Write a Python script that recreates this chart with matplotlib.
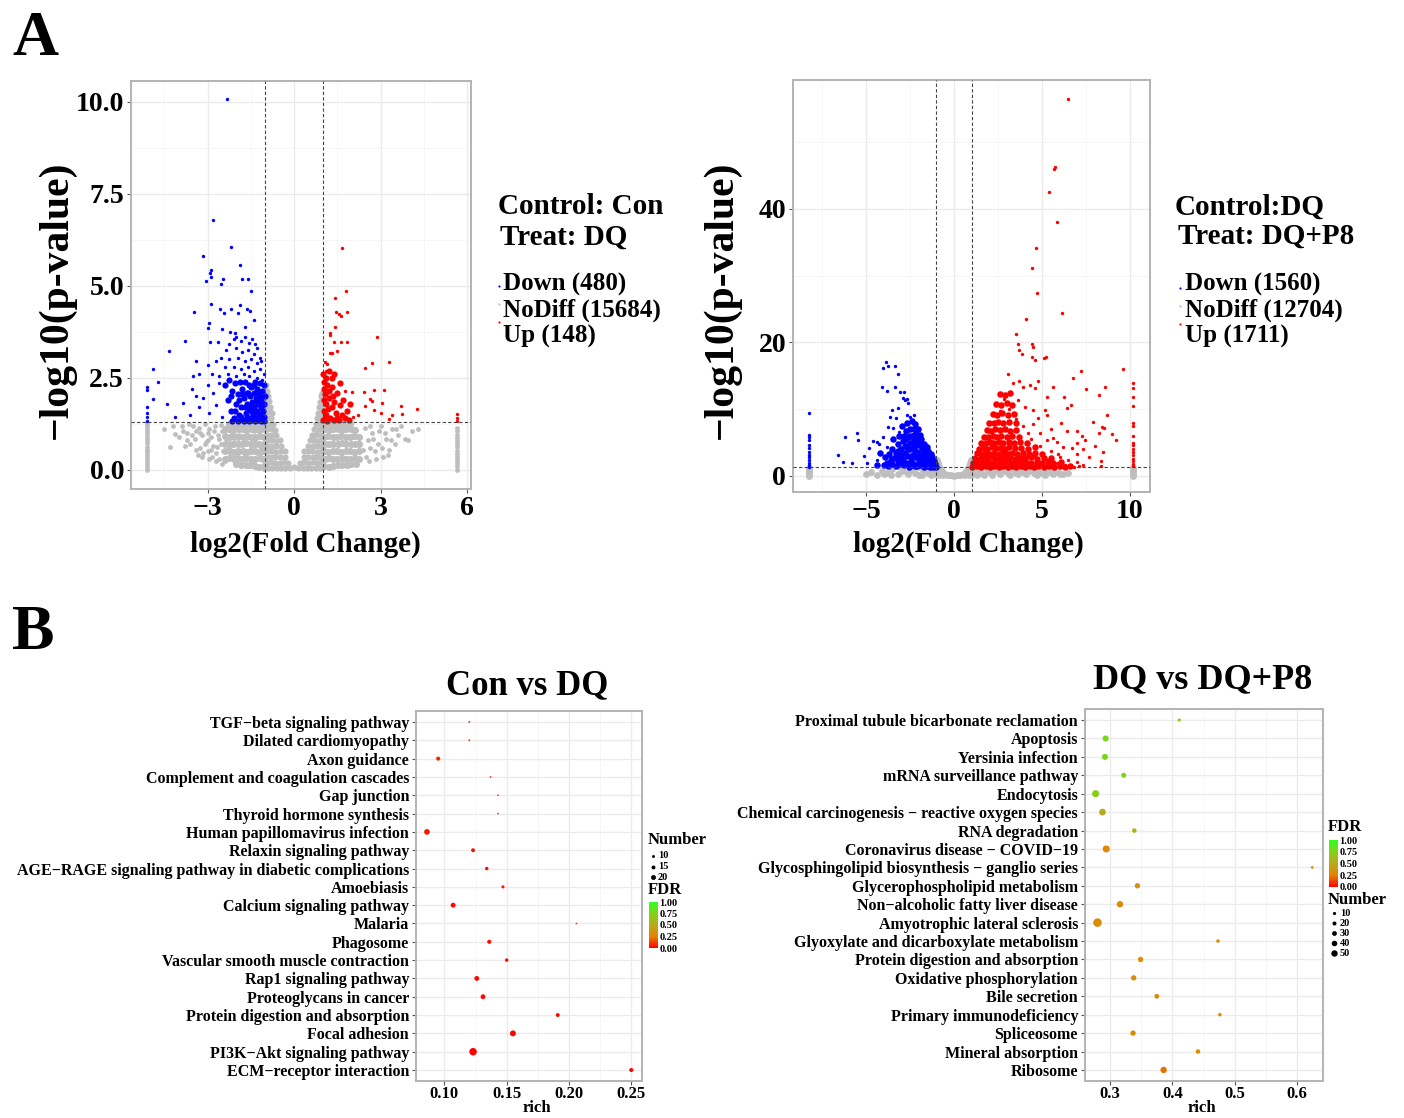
import numpy as np
import matplotlib
matplotlib.use("Agg")
import matplotlib.pyplot as plt
from matplotlib.colors import LinearSegmentedColormap, Normalize
from matplotlib.colorbar import ColorbarBase
from matplotlib.ticker import FixedLocator

W, H = 1404, 1118

plt.rcParams["font.family"] = ["Liberation Serif", "DejaVu Serif"]
plt.rcParams["font.weight"] = "bold"
plt.rcParams["axes.unicode_minus"] = True

# ---------------- volcano A1: Con vs DQ ----------------
a1_down = [
    (-2.32, 10.08), (-2.83, 6.78), (-2.20, 6.07), (-3.16, 5.82), (-1.88, 5.57), (-2.90, 5.42),
    (-2.92, 5.36), (-2.90, 5.25), (-3.05, 5.13), (-2.47, 5.19), (-2.52, 5.06), (-1.82, 5.19),
    (-1.60, 5.19), (-1.50, 4.86), (-2.89, 4.52), (-3.48, 4.29), (-2.58, 4.38), (-2.43, 4.26),
    (-2.18, 4.36), (-1.86, 4.49), (-1.95, 4.26), (-1.64, 4.36), (-1.54, 4.31), (-1.40, 4.07),
    (-2.95, 3.99), (-2.98, 3.86), (-2.51, 3.84), (-2.21, 3.76), (-2.05, 3.73), (-1.72, 3.88),
    (-2.00, 3.60), (-3.77, 3.51), (-4.35, 3.22), (-2.92, 3.48), (-2.64, 3.47), (-2.26, 3.41),
    (-2.10, 3.55), (-1.85, 3.50), (-1.70, 3.60), (-1.55, 3.45), (-1.45, 3.55), (-1.35, 3.42),
    (-1.30, 3.30), (-2.35, 3.25), (-2.00, 3.30), (-1.80, 3.20), (-1.60, 3.25), (-1.40, 3.15),
    (-1.20, 3.05), (-2.55, 3.05), (-2.25, 3.00), (-1.95, 3.05), (-1.70, 2.95), (-1.50, 3.00),
    (-1.30, 2.90), (-1.15, 2.95), (-2.70, 2.95), (-3.40, 2.95), (-3.00, 2.85), (-2.40, 2.80),
    (-2.10, 2.80), (-1.85, 2.75), (-1.60, 2.80), (-1.40, 2.70), (-1.20, 2.75), (-1.05, 2.60),
    (-3.50, 2.55), (-3.30, 2.60), (-2.85, 2.60), (-2.60, 2.55), (-2.30, 2.60), (-2.00, 2.55),
    (-1.75, 2.60), (-1.55, 2.55), (-1.30, 2.50), (-1.10, 2.45), (-4.88, 2.74), (-4.73, 2.38),
    (-4.88, 1.93), (-4.40, 1.78), (-4.12, 1.44), (-3.84, 1.82), (-3.55, 2.20), (-3.40, 2.00),
    (-3.60, 1.50), (-3.30, 1.70), (-3.00, 2.30), (-3.15, 1.95), (-2.95, 1.55), (-2.80, 2.10),
    (-2.70, 1.75), (-2.60, 2.35), (-2.50, 1.45), (-5.10, 2.25), (-5.10, 2.16), (-5.10, 1.70),
    (-5.10, 1.55), (-5.10, 1.43), (-5.10, 1.34),
]
a1_down_core = [
    (-2.40, 2.30), (-2.30, 1.90), (-2.25, 2.45), (-2.20, 1.60), (-2.15, 2.15), (-2.10, 1.40),
    (-2.05, 2.35), (-2.00, 1.80), (-1.95, 2.05), (-1.92, 1.50), (-1.88, 2.40), (-1.85, 1.70),
    (-1.80, 2.20), (-1.78, 1.35), (-1.75, 1.95), (-1.70, 2.40), (-1.68, 1.55), (-1.65, 2.10),
    (-1.62, 1.80), (-1.60, 1.40), (-1.58, 2.30), (-1.55, 1.65), (-1.52, 2.00), (-1.50, 1.35),
    (-1.48, 2.25), (-1.45, 1.85), (-1.43, 1.50), (-1.40, 2.10), (-1.38, 1.70), (-1.36, 2.40),
    (-1.34, 1.40), (-1.32, 1.95), (-1.30, 1.60), (-1.28, 2.20), (-1.26, 1.80), (-1.24, 1.35),
    (-1.22, 2.05), (-1.20, 1.50), (-1.18, 2.35), (-1.16, 1.70), (-1.14, 1.90), (-1.12, 1.40),
    (-1.10, 2.15), (-1.08, 1.60), (-1.06, 1.80), (-1.04, 2.30), (-1.03, 1.45), (-1.02, 2.00),
    (-1.15, 1.32), (-1.35, 1.32), (-1.55, 1.32), (-1.75, 1.33), (-1.95, 1.32), (-2.15, 1.33),
    (-1.05, 1.32), (-1.25, 1.55), (-1.45, 1.58), (-1.65, 1.45), (-1.85, 1.45), (-2.05, 1.60),
    (-1.10, 1.75), (-1.30, 1.85), (-1.50, 1.75), (-1.70, 1.70), (-1.90, 1.90), (-1.20, 2.00),
    (-1.40, 2.30), (-1.60, 2.10), (-1.80, 2.05), (-2.20, 2.00),
]
a1_up = [
    (1.68, 6.02), (1.79, 4.86), (1.42, 4.66), (1.46, 4.28), (1.56, 4.25), (1.64, 4.17),
    (1.84, 4.29), (1.43, 3.88), (1.25, 3.71), (1.26, 3.66), (1.40, 3.47), (1.62, 3.47),
    (1.82, 3.47), (2.88, 3.60), (1.23, 3.17), (1.31, 3.17), (1.49, 3.22), (2.46, 2.76),
    (2.71, 2.90), (3.28, 2.93), (1.08, 2.93), (1.14, 2.88), (1.11, 2.70), (1.77, 2.14),
    (2.00, 2.13), (2.42, 2.11), (2.79, 2.17), (3.13, 2.17), (2.64, 1.93), (2.70, 1.88),
    (2.45, 1.73), (3.04, 1.82), (3.70, 1.74), (4.27, 1.66), (2.79, 1.63), (3.00, 1.54),
    (3.39, 1.48), (3.73, 1.52), (2.03, 1.45), (2.23, 1.48), (3.29, 1.37), (5.64, 1.52),
    (5.64, 1.41), (5.64, 1.34),
]
a1_up_core = [
    (1.02, 2.60), (1.05, 2.40), (1.10, 2.50), (1.03, 2.20), (1.08, 2.05), (1.15, 2.30),
    (1.20, 2.15), (1.04, 1.90), (1.12, 1.80), (1.22, 1.95), (1.30, 2.25), (1.35, 2.00),
    (1.03, 1.60), (1.10, 1.50), (1.18, 1.65), (1.25, 1.40), (1.32, 1.70), (1.40, 1.85),
    (1.45, 1.55), (1.50, 2.10), (1.55, 1.35), (1.60, 1.75), (1.65, 1.50), (1.70, 1.90),
    (1.75, 1.40), (1.02, 1.35), (1.08, 1.38), (1.15, 1.33), (1.38, 1.35), (1.48, 1.42),
    (1.85, 1.60), (1.90, 1.35), (1.95, 1.80), (1.58, 2.35), (1.30, 2.50), (1.38, 2.60),
    (1.20, 2.70),
]
a1_nodiff = [
    (-1.05, 0.02), (-1.10, 0.30), (-1.15, 0.60), (-1.10, 0.90), (-1.20, 1.20), (-1.25, 0.05),
    (-1.30, 0.45), (-1.35, 0.80), (-1.40, 1.05), (-1.45, 0.20), (-1.50, 0.60), (-1.55, 1.25),
    (-1.60, 0.10), (-1.65, 0.90), (-1.70, 0.40), (-1.75, 1.10), (-1.80, 0.70), (-1.85, 0.15),
    (-1.90, 0.95), (-1.95, 0.45), (-2.00, 1.20), (-2.05, 0.20), (-2.10, 0.75), (-2.15, 1.00),
    (-2.20, 0.35), (-2.25, 0.60), (-2.30, 1.25), (-2.35, 0.85), (-2.40, 0.25), (-2.45, 0.50),
    (-2.50, 1.05), (-2.55, 0.70), (-2.60, 0.30), (-2.65, 0.95), (-2.70, 0.45), (-2.75, 1.20),
    (-2.80, 0.65), (-2.85, 0.35), (-2.90, 0.90), (-2.95, 1.10), (-3.00, 0.50), (-3.05, 0.75),
    (-3.10, 1.25), (-3.15, 0.45), (-3.20, 0.95), (-3.25, 0.60), (-3.30, 1.15), (-3.40, 0.55),
    (-3.45, 0.85), (-3.50, 1.20), (-3.60, 0.70), (-3.70, 1.00), (-3.80, 0.65), (-3.90, 1.20),
    (-4.00, 0.90), (-4.13, 0.98), (-4.31, 0.62), (-4.50, 1.10), (-3.35, 0.40), (-2.95, 0.30),
    (-2.50, 0.15), (-3.10, 0.70), (-3.40, 1.05), (-3.70, 0.80), (-3.55, 0.95), (-3.25, 1.00),
    (-3.85, 1.05), (-4.20, 1.20), (-3.65, 1.25), (-3.00, 1.00), (-2.70, 0.25), (-3.20, 0.35),
    (-2.62, 0.85), (-2.78, 1.05), (-2.88, 0.55), (-2.55, 1.22), (-2.68, 0.62), (-2.98, 0.82),
    (2.40, 0.55), (2.45, 1.15), (2.50, 0.35), (2.55, 0.80), (2.60, 0.25), (2.70, 1.00),
    (2.80, 0.50), (2.90, 0.70), (3.00, 1.20), (3.10, 0.35), (3.20, 0.85), (3.30, 0.55),
    (3.40, 1.10), (3.50, 0.70), (3.60, 0.95), (3.70, 1.20), (3.85, 0.85), (3.97, 0.80),
    (4.10, 1.05), (4.30, 1.10), (2.62, 0.60), (2.85, 0.30), (3.15, 1.00), (2.75, 0.85),
    (2.95, 1.05), (3.35, 0.80), (2.65, 1.20), (3.05, 0.60), (3.55, 1.10), (3.25, 0.40),
    (-5.10, 0.00), (-5.10, 0.08), (-5.10, 0.15), (-5.10, 0.25), (-5.10, 0.31), (-5.10, 0.40),
    (-5.10, 0.48), (-5.10, 0.55), (-5.10, 0.63), (-5.10, 0.72), (-5.10, 0.80), (-5.10, 0.86),
    (-5.10, 0.95), (-5.10, 1.02), (-5.10, 1.10), (-5.10, 1.18), (-5.10, 1.25),
    (5.64, 0.00), (5.64, 0.10), (5.64, 0.18), (5.64, 0.27), (5.64, 0.35), (5.64, 0.44),
    (5.64, 0.52), (5.64, 0.61), (5.64, 0.70), (5.64, 0.78), (5.64, 0.87), (5.64, 0.95),
    (5.64, 1.05), (5.64, 1.15),
]
# solid grey walls of the "V" between the dashed lines
a1_nodiff_wall = [
    (-0.90, 0.05), (-0.75, 0.04), (-0.60, 0.06), (-0.45, 0.05), (-0.30, 0.04), (-0.15, 0.06),
    (0.00, 0.08), (-0.95, 0.20), (-0.80, 0.21), (-0.65, 0.19), (-0.50, 0.20), (-0.35, 0.22),
    (-0.20, 0.18), (-0.95, 0.36), (-0.80, 0.35), (-0.65, 0.34), (-0.50, 0.36), (-0.33, 0.35),
    (-0.92, 0.50), (-0.77, 0.51), (-0.62, 0.49), (-0.46, 0.50), (-0.32, 0.52), (-0.95, 0.65),
    (-0.80, 0.64), (-0.63, 0.66), (-0.45, 0.65), (-0.92, 0.80), (-0.77, 0.81), (-0.62, 0.79),
    (-0.50, 0.80), (-0.95, 0.95), (-0.80, 0.94), (-0.64, 0.96), (-0.93, 1.10), (-0.78, 1.11),
    (-0.66, 1.09), (-0.95, 1.25), (-0.83, 1.26), (-0.73, 1.24), (-0.93, 1.40), (-0.81, 1.41),
    (-0.96, 1.55), (-0.84, 1.56), (-0.77, 1.54), (-0.93, 1.70), (-0.84, 1.71), (-0.96, 1.85),
    (-0.87, 1.86), (-0.94, 2.00), (-0.89, 2.02), (-0.95, 2.15), (-0.97, 2.30),
    (0.15, 0.06), (0.30, 0.05), (0.45, 0.04), (0.60, 0.06), (0.75, 0.05), (0.90, 0.04),
    (0.20, 0.19), (0.35, 0.21), (0.50, 0.20), (0.65, 0.22), (0.80, 0.19), (0.95, 0.21),
    (0.33, 0.34), (0.50, 0.36), (0.65, 0.35), (0.80, 0.34), (0.95, 0.36), (0.34, 0.50),
    (0.48, 0.52), (0.63, 0.50), (0.78, 0.49), (0.93, 0.51), (0.47, 0.66), (0.64, 0.65),
    (0.80, 0.64), (0.95, 0.66), (0.54, 0.80), (0.66, 0.81), (0.80, 0.79), (0.94, 0.80),
    (0.62, 0.95), (0.77, 0.96), (0.92, 0.94), (0.68, 1.10), (0.81, 1.09), (0.95, 1.11),
    (0.75, 1.25), (0.86, 1.26), (0.96, 1.24), (0.80, 1.40), (0.91, 1.41), (0.83, 1.55),
    (0.94, 1.54), (0.86, 1.70), (0.95, 1.71), (0.90, 1.85), (0.96, 1.86), (0.93, 2.00),
    (0.97, 2.10),
]
# solid grey shoulders just outside |log2FC| = 1
a1_nodiff_shoulder = [
    (-1.05, 0.10), (-1.22, 0.09), (-1.37, 0.11), (-1.52, 0.12), (-1.68, 0.12), (-1.84, 0.14),
    (-2.00, 0.15), (-1.07, 0.30), (-1.20, 0.31), (-1.36, 0.29), (-1.50, 0.30), (-1.66, 0.32),
    (-1.80, 0.30), (-1.96, 0.31), (-2.10, 0.29), (-2.26, 0.31), (-2.40, 0.30), (-1.04, 0.50),
    (-1.19, 0.49), (-1.34, 0.51), (-1.49, 0.50), (-1.64, 0.48), (-1.79, 0.51), (-1.94, 0.50),
    (-2.09, 0.49), (-2.24, 0.51), (-2.39, 0.50), (-1.06, 0.70), (-1.21, 0.71), (-1.36, 0.69),
    (-1.51, 0.70), (-1.66, 0.72), (-1.81, 0.70), (-1.96, 0.69), (-2.11, 0.71), (-2.26, 0.70),
    (-2.41, 0.69), (-1.04, 0.90), (-1.19, 0.91), (-1.34, 0.89), (-1.49, 0.90), (-1.64, 0.91),
    (-1.79, 0.89), (-1.94, 0.90), (-2.09, 0.92), (-2.24, 0.90), (-2.39, 0.91), (-1.06, 1.10),
    (-1.21, 1.09), (-1.36, 1.11), (-1.51, 1.10), (-1.66, 1.09), (-1.81, 1.11), (-1.96, 1.10),
    (-2.11, 1.09), (-2.26, 1.11), (-2.41, 1.10), (-1.05, 1.25), (-1.20, 1.26), (-1.35, 1.24),
    (-1.50, 1.25), (-1.65, 1.26), (-1.80, 1.24), (-1.95, 1.25), (-2.10, 1.26), (-2.25, 1.25),
    (1.05, 0.10), (1.21, 0.09), (1.36, 0.11), (1.52, 0.12), (1.67, 0.13), (1.83, 0.14),
    (1.98, 0.16), (2.14, 0.17), (1.06, 0.30), (1.20, 0.31), (1.35, 0.29), (1.50, 0.30),
    (1.65, 0.31), (1.80, 0.29), (1.95, 0.30), (2.10, 0.31), (2.25, 0.30), (1.04, 0.50),
    (1.19, 0.49), (1.34, 0.51), (1.49, 0.50), (1.64, 0.48), (1.79, 0.51), (1.94, 0.50),
    (2.09, 0.49), (2.24, 0.51), (1.06, 0.70), (1.21, 0.71), (1.36, 0.69), (1.51, 0.70),
    (1.66, 0.72), (1.81, 0.70), (1.96, 0.69), (2.11, 0.71), (2.26, 0.70), (1.04, 0.90),
    (1.19, 0.91), (1.34, 0.89), (1.49, 0.90), (1.64, 0.91), (1.79, 0.89), (1.94, 0.90),
    (2.09, 0.92), (2.24, 0.90), (1.06, 1.10), (1.21, 1.09), (1.36, 1.11), (1.51, 1.10),
    (1.66, 1.09), (1.81, 1.11), (1.96, 1.10), (2.11, 1.09), (1.05, 1.25), (1.20, 1.26),
    (1.35, 1.24), (1.50, 1.25), (1.65, 1.26), (1.80, 1.24), (1.95, 1.25),
]

# ---------------- volcano A2: DQ vs DQ+P8 ----------------
a2_down = [
    (-3.84, 17.05), (-4.03, 16.15), (-3.77, 16.50), (-3.37, 16.50), (-3.16, 15.30), (-4.09, 13.30),
    (-3.83, 12.80), (-3.35, 13.30), (-3.07, 12.55), (-2.84, 12.60), (-2.92, 11.65), (-2.78, 11.40),
    (-2.65, 11.50), (-2.59, 10.90), (-3.54, 9.90), (-3.16, 10.25), (-3.64, 8.90), (-3.30, 8.65),
    (-2.69, 9.15), (-2.50, 8.80), (-2.27, 9.15), (-3.77, 7.40), (-3.48, 7.15), (-3.14, 6.65),
    (-5.53, 6.50), (-5.44, 5.40), (-6.19, 5.90), (-6.57, 3.15), (-6.29, 2.15), (-5.81, 1.90),
    (-4.62, 5.30), (-4.36, 5.05), (-4.24, 4.80), (-4.85, 4.15), (-5.11, 3.00), (-4.92, 1.90),
    (-4.02, 5.90), (-3.83, 4.40), (-4.36, 2.40), (-3.64, 2.90),
    (-8.22, 9.40), (-8.22, 6.15), (-8.22, 5.90), (-8.22, 5.40), (-8.22, 4.65), (-8.22, 4.20),
    (-8.22, 3.65), (-8.22, 3.20), (-8.22, 2.80), (-8.22, 2.40), (-8.22, 2.00), (-8.22, 1.70),
    (-8.22, 1.40),
]
a2_down_core = [
    (-1.05, 1.40), (-1.10, 1.80), (-1.15, 2.30), (-1.20, 1.50), (-1.25, 2.80), (-1.30, 2.00),
    (-1.30, 3.30), (-1.35, 1.40), (-1.40, 2.50), (-1.45, 3.80), (-1.50, 1.70), (-1.50, 3.00),
    (-1.55, 4.30), (-1.60, 2.20), (-1.65, 3.60), (-1.70, 1.40), (-1.70, 4.80), (-1.75, 2.80),
    (-1.80, 4.00), (-1.85, 1.90), (-1.85, 5.50), (-1.90, 3.20), (-1.95, 6.20), (-2.00, 2.40),
    (-2.00, 4.60), (-2.05, 7.00), (-2.10, 1.50), (-2.10, 3.60), (-2.15, 5.40), (-2.20, 2.80),
    (-2.20, 7.80), (-2.25, 4.20), (-2.30, 6.20), (-2.30, 1.80), (-2.35, 3.20), (-2.40, 5.00),
    (-2.40, 8.30), (-2.45, 2.30), (-2.50, 7.00), (-2.50, 4.00), (-2.55, 1.40), (-2.60, 5.80),
    (-2.60, 3.00), (-2.65, 8.00), (-2.70, 2.00), (-2.70, 4.50), (-2.75, 6.70), (-2.80, 3.50),
    (-2.85, 1.60), (-2.90, 5.20), (-2.90, 2.60), (-2.95, 7.50), (-3.00, 4.00), (-3.05, 1.90),
    (-3.10, 3.00), (-3.10, 6.00), (-3.20, 2.30), (-3.20, 4.80), (-3.30, 1.50), (-3.30, 3.50),
    (-3.40, 2.70), (-3.45, 5.50), (-3.50, 1.80), (-3.55, 4.00), (-3.60, 2.40), (-3.70, 3.30),
    (-3.75, 1.50), (-3.80, 2.00), (-3.90, 2.80), (-4.00, 1.60), (-4.20, 3.50), (-4.40, 1.70),
    (-1.20, 1.35), (-1.40, 1.60), (-1.60, 1.50), (-1.80, 1.60), (-2.00, 1.70), (-2.20, 1.50),
    (-2.40, 1.60), (-2.60, 1.80), (-1.60, 3.00), (-1.80, 2.50), (-2.00, 3.20), (-2.20, 3.80),
    (-2.40, 3.00), (-2.60, 4.00), (-2.80, 4.50), (-2.00, 5.50), (-2.30, 7.00), (-2.50, 6.00),
    (-1.75, 4.50), (-1.95, 5.00), (-2.15, 6.50), (-2.70, 5.50), (-2.85, 6.00), (-1.40, 3.20),
    (-1.25, 2.20), (-1.15, 1.60), (-1.50, 2.20), (-1.70, 3.50), (-1.90, 4.50), (-2.10, 4.80),
    (-2.30, 5.50), (-2.50, 5.00), (-3.00, 3.20), (-3.20, 3.80),
]
a2_up = [
    (6.49, 56.40), (5.68, 46.00), (5.76, 46.30), (5.38, 42.60), (5.87, 38.10), (4.68, 34.10),
    (4.43, 31.20), (4.73, 27.40), (6.15, 24.40), (4.12, 23.50), (3.54, 21.20), (3.61, 19.80),
    (3.72, 18.90), (3.87, 18.20), (4.43, 19.70), (4.48, 19.30), (4.43, 17.80), (4.63, 17.30),
    (5.13, 17.60), (5.25, 17.80),
    (3.05, 15.30), (3.33, 13.90), (3.67, 14.25), (4.32, 13.65), (4.79, 14.25), (5.61, 13.30),
    (6.23, 11.80), (6.78, 14.60), (7.22, 15.75), (7.52, 13.00), (8.56, 13.35), (8.26, 12.15),
    (9.58, 16.00), (5.27, 11.80), (4.60, 13.15), (3.94, 13.30), (3.66, 11.40), (4.03, 10.40),
    (4.51, 9.90), (5.17, 9.90), (6.44, 10.25), (6.65, 10.65), (4.79, 8.65), (5.30, 9.15),
    (6.06, 8.00), (6.40, 6.75), (7.01, 6.75), (7.25, 6.05), (7.46, 5.40), (7.92, 8.15),
    (8.39, 7.40), (8.67, 9.15), (8.26, 6.40), (8.52, 7.25), (9.20, 5.40), (8.48, 3.65),
    (8.33, 2.30), (8.33, 1.50), (5.27, 5.40), (5.64, 5.65), (5.83, 5.15), (6.21, 4.40),
    (6.69, 4.25), (6.97, 3.30), (7.35, 4.00), (6.02, 2.90), (6.50, 2.40), (6.97, 2.15),
    (7.35, 1.65), (5.83, 1.90), (6.31, 1.65), (2.85, 11.50), (3.10, 10.00), (2.60, 9.80),
    (3.50, 8.50), (3.90, 7.50), (4.20, 6.50), (4.50, 7.80), (4.90, 6.40), (5.50, 7.00),
    (4.40, 5.50), (4.90, 4.50), (5.50, 3.80), (5.90, 3.30), (4.60, 3.00), (5.30, 2.40),
    (5.60, 1.80), (6.80, 1.40), (7.10, 1.50), (7.70, 2.90), (7.00, 4.90), (8.00, 4.50),
    (9.00, 6.30),
    (10.20, 13.90), (10.20, 13.20), (10.20, 11.90), (10.20, 10.50), (10.20, 8.00), (10.20, 7.50),
    (10.20, 6.00), (10.20, 5.00), (10.20, 4.60), (10.20, 4.10), (10.20, 3.60), (10.20, 3.10),
    (10.20, 2.60), (10.20, 2.20), (10.20, 1.80), (10.20, 1.50),
]
a2_up_core = [
    (1.05, 1.40), (1.30, 1.50), (1.55, 1.40), (1.80, 1.55), (2.05, 1.40), (2.30, 1.50),
    (2.55, 1.40), (2.80, 1.55), (3.05, 1.40), (3.30, 1.50), (3.55, 1.40), (3.80, 1.55),
    (4.05, 1.40), (4.30, 1.50), (4.55, 1.40), (4.80, 1.50), (5.10, 1.40), (5.40, 1.55),
    (5.70, 1.40), (6.00, 1.45), (6.30, 1.40), (6.60, 1.50),
    (1.10, 2.00), (1.35, 2.10), (1.60, 1.95), (1.85, 2.10), (2.10, 2.00), (2.35, 2.10),
    (2.60, 1.95), (2.85, 2.05), (3.10, 2.15), (3.35, 1.95), (3.60, 2.10), (3.85, 2.00),
    (4.10, 2.15), (4.40, 1.95), (4.70, 2.10), (5.00, 2.00), (5.35, 2.15), (5.65, 1.95),
    (6.10, 2.05),
    (1.20, 2.70), (1.45, 2.60), (1.70, 2.75), (1.95, 2.65), (2.20, 2.80), (2.45, 2.60),
    (2.70, 2.75), (2.95, 2.65), (3.20, 2.80), (3.45, 2.60), (3.75, 2.75), (4.05, 2.65),
    (4.35, 2.80), (4.70, 2.60), (5.10, 2.75), (5.50, 2.70),
    (1.30, 3.40), (1.55, 3.30), (1.80, 3.45), (2.05, 3.35), (2.30, 3.50), (2.55, 3.30),
    (2.80, 3.45), (3.05, 3.35), (3.30, 3.50), (3.60, 3.30), (3.90, 3.45), (4.25, 3.35),
    (4.60, 3.50), (5.00, 3.30),
    (1.40, 4.10), (1.65, 4.25), (1.90, 4.10), (2.15, 4.30), (2.40, 4.15), (2.65, 4.25),
    (2.90, 4.10), (3.15, 4.30), (3.45, 4.15), (3.80, 4.25), (4.20, 4.10), (4.60, 4.30),
    (1.55, 5.00), (1.80, 4.90), (2.05, 5.10), (2.30, 4.95), (2.55, 5.05), (2.80, 4.90),
    (3.10, 5.10), (3.40, 4.95), (3.75, 5.05), (4.15, 4.90),
    (1.70, 5.90), (1.95, 5.80), (2.20, 6.00), (2.45, 5.85), (2.70, 6.00), (3.00, 5.80),
    (3.30, 6.00), (3.70, 5.85),
    (1.85, 6.90), (2.10, 6.80), (2.35, 7.00), (2.60, 6.85), (2.90, 7.00), (3.20, 6.80),
    (3.55, 6.95),
    (2.00, 8.00), (2.25, 7.90), (2.50, 8.10), (2.80, 7.95), (3.10, 8.10), (3.50, 7.90),
    (2.20, 9.30), (2.45, 9.20), (2.75, 9.40), (3.05, 9.20), (3.40, 9.35),
    (2.40, 10.80), (2.70, 10.60), (3.00, 11.00), (3.30, 10.70),
    (2.60, 12.30), (2.90, 12.10), (3.20, 12.50),
]
a2_nodiff = [
    (-5.00, 0.30), (-4.70, 0.60), (-4.40, 0.20), (-4.10, 0.80), (-3.80, 0.40), (-3.50, 1.00),
    (-3.20, 0.25), (-2.90, 0.70), (-2.60, 0.35), (-2.30, 1.00), (-2.00, 0.20), (-1.70, 0.60),
    (-1.40, 1.10), (-1.10, 0.30), (-3.00, 1.20), (-2.50, 0.90), (-1.90, 1.20), (-1.50, 0.40),
    (-1.20, 0.80), (-4.00, 0.30), (-3.60, 0.15), (-2.20, 0.50), (-1.80, 0.15), (-1.30, 0.10),
    (-0.95, 2.40), (-0.90, 1.90), (-0.85, 1.50), (-0.95, 1.20), (-0.80, 1.00), (-0.90, 0.60),
    (-0.70, 0.70), (-0.75, 0.30), (-0.60, 0.45), (-0.50, 0.30), (-0.40, 0.20), (-0.30, 0.15),
    (-0.15, 0.10), (0.00, 0.05), (0.15, 0.10), (0.30, 0.15), (0.40, 0.20), (0.50, 0.30),
    (0.60, 0.45), (0.75, 0.30), (0.70, 0.70), (0.80, 1.00), (0.90, 0.60), (0.95, 1.20),
    (0.85, 1.50), (0.90, 1.90), (0.95, 2.40), (-0.60, 0.10), (0.60, 0.10), (-0.85, 0.15),
    (0.85, 0.15),
    (1.10, 0.30), (1.40, 0.90), (1.70, 0.20), (2.00, 0.60), (2.30, 1.10), (2.60, 0.30),
    (2.90, 0.80), (3.20, 0.15), (3.50, 0.50), (3.80, 1.00), (4.10, 0.25), (4.40, 0.70),
    (4.70, 0.20), (5.00, 0.50), (5.30, 0.90), (5.60, 0.30), (5.90, 0.60), (6.20, 0.35),
    (6.50, 0.50), (1.25, 1.20), (1.55, 0.50), (1.85, 1.00), (2.15, 0.20), (2.45, 0.70),
    (2.75, 1.20), (3.05, 0.45), (3.35, 1.10), (3.65, 0.25), (3.95, 0.65), (4.25, 1.10),
    (4.55, 0.40), (4.85, 0.90), (5.15, 0.20), (5.45, 0.60), (5.75, 1.00), (6.05, 0.30),
    (1.05, 0.80), (1.30, 0.15),
    (-8.22, 0.00), (-8.22, 0.30), (-8.22, 0.60), (-8.22, 0.90), (-8.22, 1.20),
    (10.20, 0.00), (10.20, 0.30), (10.20, 0.60), (10.20, 0.90), (10.20, 1.20),
]

# ---------------- KEGG dot plot B1: Con vs DQ ----------------
b1_terms = [
    "TGF\u2212beta signaling pathway", "Dilated cardiomyopathy", "Axon guidance",
    "Complement and coagulation cascades", "Gap junction", "Thyroid hormone synthesis",
    "Human papillomavirus infection", "Relaxin signaling pathway",
    "AGE\u2212RAGE signaling pathway in diabetic complications", "Amoebiasis",
    "Calcium signaling pathway", "Malaria", "Phagosome", "Vascular smooth muscle contraction",
    "Rap1 signaling pathway", "Proteoglycans in cancer", "Protein digestion and absorption",
    "Focal adhesion", "PI3K\u2212Akt signaling pathway", "ECM\u2212receptor interaction",
]
b1_rich = [0.120, 0.120, 0.095, 0.137, 0.143, 0.143, 0.086, 0.123, 0.134, 0.147,
           0.107, 0.206, 0.136, 0.150, 0.126, 0.131, 0.191, 0.155, 0.123, 0.250]
b1_number = [5, 5, 16, 4, 4, 4, 24, 15, 13, 11, 20, 4, 16, 13, 20, 20, 15, 25, 33, 16]
b1_fdr = [0.12, 0.12, 0.08, 0.10, 0.10, 0.10, 0.05, 0.03, 0.03, 0.05,
          0.02, 0.10, 0.02, 0.02, 0.02, 0.02, 0.01, 0.01, 0.01, 0.01]
b1_size_breaks = [10, 15, 20]

# ---------------- KEGG dot plot B2: DQ vs DQ+P8 ----------------
b2_terms = [
    "Proximal tubule bicarbonate reclamation", "Apoptosis", "Yersinia infection",
    "mRNA surveillance pathway", "Endocytosis", "Chemical carcinogenesis \u2212 reactive oxygen species",
    "RNA degradation", "Coronavirus disease \u2212 COVID\u221219",
    "Glycosphingolipid biosynthesis \u2212 ganglio series", "Glycerophospholipid metabolism",
    "Non\u2212alcoholic fatty liver disease", "Amyotrophic lateral sclerosis",
    "Glyoxylate and dicarboxylate metabolism", "Protein digestion and absorption",
    "Oxidative phosphorylation", "Bile secretion", "Primary immunodeficiency", "Spliceosome",
    "Mineral absorption", "Ribosome",
]
b2_rich = [0.411, 0.293, 0.292, 0.322, 0.277, 0.288, 0.339, 0.294, 0.624, 0.344,
           0.316, 0.280, 0.473, 0.349, 0.338, 0.375, 0.476, 0.337, 0.441, 0.386]
b2_number = [10, 46, 46, 33, 59, 54, 27, 59, 3, 37, 50, 77, 14, 37, 37, 30, 14, 37, 27, 50]
b2_fdr = [0.72, 0.78, 0.78, 0.76, 0.72, 0.52, 0.55, 0.30, 0.30, 0.35,
          0.30, 0.32, 0.32, 0.32, 0.32, 0.32, 0.32, 0.32, 0.32, 0.22]
b2_size_breaks = [10, 20, 30, 40, 50]

fdr_ticks = [0.0, 0.25, 0.5, 0.75, 1.0]

FDR_CMAP = LinearSegmentedColormap.from_list(
    "fdr", [(0.0, "#FF0000"), (0.25, "#E58200"), (0.5, "#B8AA1A"), (0.75, "#84D216"), (1.0, "#2EFF1E")]
)
GREY_GRID = "#EBEBEB"
BORDER = "#B3B3B3"
GREY_PT = "#BEBEBE"


def px_axes(fig, x0, y0, x1, y1):
    return fig.add_axes([x0 / W, 1 - y1 / H, (x1 - x0) / W, (y1 - y0) / H])


def ftext(fig, x, y, s, **kw):
    return fig.text(x / W, 1 - y / H, s, **kw)


def style_panel(ax):
    for sp in ax.spines.values():
        sp.set_color(BORDER)
        sp.set_linewidth(1.4)
    ax.grid(True, which="major", color=GREY_GRID, lw=1.0)
    ax.grid(True, which="minor", color="#F5F5F5", lw=0.6)
    ax.set_axisbelow(True)
    ax.tick_params(which="major", length=3, width=0.8, color="#555555", pad=2)
    ax.tick_params(which="minor", length=0)


def pts(ax, data, size, col, z):
    a = np.array(data)
    ax.scatter(a[:, 0], a[:, 1], s=size, c=col, linewidths=0, zorder=z)


def draw_volcano(ax, down, down_core, up, up_core, core_s):
    pts(ax, down_core, core_s, "#0000FF", 3)
    pts(ax, down, 6, "#0000FF", 3)
    pts(ax, up_core, core_s, "#FF0000", 3)
    pts(ax, up, 6, "#FF0000", 3)
    for xv in (-1, 1):
        ax.axvline(xv, color="#444444", lw=0.8, ls=(0, (3, 2)), zorder=4)
    ax.axhline(-np.log10(0.05), color="#444444", lw=0.8, ls=(0, (3, 2)), zorder=4)
    style_panel(ax)
    ax.tick_params(labelsize=20)


def dotplot(ax, terms, rich, number, fdr, diam):
    n = len(terms)
    ypos = np.arange(n, 0, -1)
    sizes = [(diam(v) * 0.72) ** 2 for v in number]
    ax.scatter(rich, ypos, s=sizes, c=fdr, cmap=FDR_CMAP, vmin=0, vmax=1, linewidths=0, zorder=3)
    ax.set_yticks(ypos)
    ax.set_yticklabels(terms, fontsize=11.5)
    ax.set_ylim(0.4, n + 0.6)
    style_panel(ax)
    ax.tick_params(axis="x", labelsize=12, pad=0.5)
    ax.tick_params(axis="y", pad=2)


def diam_b1(v):
    return 0.9 + 0.2 * v


def diam_b2(v):
    return 2.4 + 0.08 * v


fig = plt.figure(figsize=(W / 100, H / 100), dpi=100)
fig.patch.set_facecolor("white")

# ---- A1 ----
ax1 = px_axes(fig, 131, 81, 471, 489)
pts(ax1, a1_nodiff, 12, GREY_PT, 2)
pts(ax1, a1_nodiff_wall, 20, GREY_PT, 2)
pts(ax1, a1_nodiff_shoulder, 26, GREY_PT, 2)
draw_volcano(ax1, a1_down, a1_down_core, a1_up, a1_up_core, 20)
ax1.set_xlim(-5.66, 6.14)
ax1.set_ylim(-0.52, 10.57)
ax1.set_xticks([-3, 0, 3, 6])
ax1.xaxis.set_minor_locator(FixedLocator([-4.5, -1.5, 1.5, 4.5]))
ax1.set_yticks([0, 2.5, 5, 7.5, 10])
ax1.set_yticklabels(["0.0", "2.5", "5.0", "7.5", "10.0"])
ax1.yaxis.set_minor_locator(FixedLocator([1.25, 3.75, 6.25, 8.75]))

# ---- A2 ----
ax2 = px_axes(fig, 793, 80, 1150, 492)
pts(ax2, a2_nodiff, 24, GREY_PT, 2)
draw_volcano(ax2, a2_down, a2_down_core, a2_up, a2_up_core, 22)
ax2.set_xlim(-9.15, 11.14)
ax2.set_ylim(-2.4, 59.3)
ax2.set_xticks([-5, 0, 5, 10])
ax2.xaxis.set_minor_locator(FixedLocator([-7.5, -2.5, 2.5, 7.5]))
ax2.set_yticks([0, 20, 40])
ax2.yaxis.set_minor_locator(FixedLocator([10, 30, 50]))

for cx in (57, 722):
    ftext(fig, cx, 300, "\u2212log10(p-value)", rotation=90, ha="center", va="center", fontsize=30)
ftext(fig, 305, 544, "log2(Fold Change)", ha="center", va="center", fontsize=21)
ftext(fig, 968, 544, "log2(Fold Change)", ha="center", va="center", fontsize=21)

ftext(fig, 498, 207, "Control: Con", ha="left", va="center", fontsize=21)
ftext(fig, 500, 237, "Treat: DQ", ha="left", va="center", fontsize=21)
ftext(fig, 1175, 207, "Control:DQ", ha="left", va="center", fontsize=21)
ftext(fig, 1178, 236, "Treat: DQ+P8", ha="left", va="center", fontsize=21)

a1_legend = ["Down (480)", "NoDiff (15684)", "Up (148)"]
a2_legend = ["Down (1560)", "NoDiff (12704)", "Up (1711)"]
leg_colors = ["#0000FF", GREY_PT, "#FF0000"]
for labels, x0 in ((a1_legend, 503), (a2_legend, 1185)):
    for i, lab in enumerate(labels):
        ftext(fig, x0, 284 + 26 * i, lab, ha="left", va="center", fontsize=18)

# ---- B1 ----
bx1 = px_axes(fig, 416, 711, 642, 1081)
dotplot(bx1, b1_terms, b1_rich, b1_number, b1_fdr, diam_b1)
bx1.set_xlim(0.0772, 0.2586)
bx1.set_xticks([0.10, 0.15, 0.20, 0.25])
bx1.set_xticklabels(["0.10", "0.15", "0.20", "0.25"])
bx1.xaxis.set_minor_locator(FixedLocator([0.125, 0.175, 0.225]))
ftext(fig, 527, 686, "Con vs DQ", ha="center", va="center", fontsize=25)
ftext(fig, 537, 1108, "rich", ha="center", va="center", fontsize=12)

# ---- B2 ----
bx2 = px_axes(fig, 1085, 709, 1323, 1081)
dotplot(bx2, b2_terms, b2_rich, b2_number, b2_fdr, diam_b2)
bx2.set_xlim(0.26, 0.6413)
bx2.set_xticks([0.3, 0.4, 0.5, 0.6])
bx2.xaxis.set_minor_locator(FixedLocator([0.35, 0.45, 0.55]))
ftext(fig, 1203, 680, "DQ vs DQ+P8", ha="center", va="center", fontsize=26)
ftext(fig, 1202, 1108, "rich", ha="center", va="center", fontsize=12)

# colour bars
for (x0, y0, x1, y1) in ((649, 902, 658, 948), (1329, 840, 1338, 887)):
    cax = px_axes(fig, x0, y0, x1, y1)
    cb = ColorbarBase(cax, cmap=FDR_CMAP, norm=Normalize(0, 1), ticks=fdr_ticks)
    cb.outline.set_visible(False)
    cb.ax.set_yticklabels(["%.2f" % t for t in fdr_ticks], fontsize=7.5)
    cb.ax.tick_params(length=0, pad=1)

ftext(fig, 648, 890, "FDR", ha="left", va="center", fontsize=12)
ftext(fig, 648, 840, "Number", ha="left", va="center", fontsize=12)
ftext(fig, 1328, 827, "FDR", ha="left", va="center", fontsize=12)
ftext(fig, 1328, 900, "Number", ha="left", va="center", fontsize=12)

# overlay in pixel space for legend keys
ov = fig.add_axes([0, 0, 1, 1])
ov.set_xlim(0, W)
ov.set_ylim(H, 0)
ov.axis("off")
ov.patch.set_alpha(0)

for (x0, y0) in ((499, 286), (1180, 288)):
    for i, col in enumerate(leg_colors):
        ov.scatter([x0], [y0 + 18 * i], s=2.5, c=col, linewidths=0)

for i, v in enumerate(b1_size_breaks):
    yy = 856 + 10.5 * i
    ov.scatter([653], [yy], s=(diam_b1(v) * 0.72) ** 2, c="black", linewidths=0)
    ov.text(658, yy, str(v), ha="left", va="center", fontsize=7.5)
for i, v in enumerate(b2_size_breaks):
    yy = 913 + 10 * i
    ov.scatter([1334], [yy], s=(diam_b2(v) * 0.72) ** 2, c="black", linewidths=0)
    ov.text(1340, yy, str(v), ha="left", va="center", fontsize=7.5)

ov.text(12, 40, "A", ha="left", va="center", fontsize=46)
ov.text(12, 634, "B", ha="left", va="center", fontsize=46)

fig.savefig("out.png", dpi=100, facecolor="white")
